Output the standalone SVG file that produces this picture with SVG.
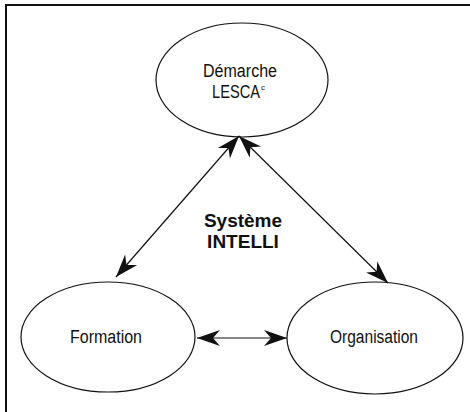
<svg xmlns="http://www.w3.org/2000/svg" width="470" height="412" viewBox="0 0 470 412">
  <style>
    .node ellipse { fill: none; stroke: #111; stroke-width: 1.2; }
    .lbl { font-family: "Liberation Sans", Arial, sans-serif; font-size: 18px; fill: #111; text-anchor: middle; }
    .title { font-family: "Liberation Sans", Arial, sans-serif; font-size: 19px; font-weight: bold; fill: #111; text-anchor: middle; }
    .link { stroke: #111; stroke-width: 1.2; fill: none; marker-start: url(#head); marker-end: url(#head); }
    .frame { stroke: #111; stroke-width: 2; fill: none; }
  </style>
  <defs>
    <marker id="head" viewBox="-24 -9 26 18" refX="0" refY="0" markerWidth="26" markerHeight="18" markerUnits="userSpaceOnUse" orient="auto-start-reverse">
      <path d="M0,0 L-23,-8 L-16,0 L-23,8 Z" fill="#111"/>
    </marker>
  </defs>

  <!-- open frame: top and left edges only -->
  <path class="frame" d="M6,412 L6,5 L470,5"/>

  <g id="demarche" class="node">
    <ellipse cx="242" cy="80" rx="86" ry="57"/>
    <text class="lbl" x="240" y="77" textLength="74" lengthAdjust="spacingAndGlyphs">Démarche</text>
    <text class="lbl" x="212" y="98" style="text-anchor:start"><tspan textLength="48" lengthAdjust="spacingAndGlyphs">LESCA</tspan><tspan dx="1" dy="-8" style="font-size:8px">c</tspan></text>
  </g>

  <g id="formation" class="node">
    <ellipse cx="108" cy="337" rx="87" ry="55"/>
    <text class="lbl" x="106" y="343" textLength="72" lengthAdjust="spacingAndGlyphs">Formation</text>
  </g>

  <g id="organisation" class="node">
    <ellipse cx="375" cy="338" rx="88" ry="56"/>
    <text class="lbl" x="374" y="343" textLength="88" lengthAdjust="spacingAndGlyphs">Organisation</text>
  </g>

  <g id="systeme">
    <text class="title" x="243" y="227">Système</text>
    <text class="title" x="243" y="248">INTELLI</text>
  </g>

  <g id="connectors">
    <line class="link" x1="239" y1="136" x2="116" y2="277"/>
    <line class="link" x1="239" y1="136" x2="388" y2="283"/>
    <line class="link" x1="197" y1="338" x2="287" y2="338"/>
  </g>
</svg>
